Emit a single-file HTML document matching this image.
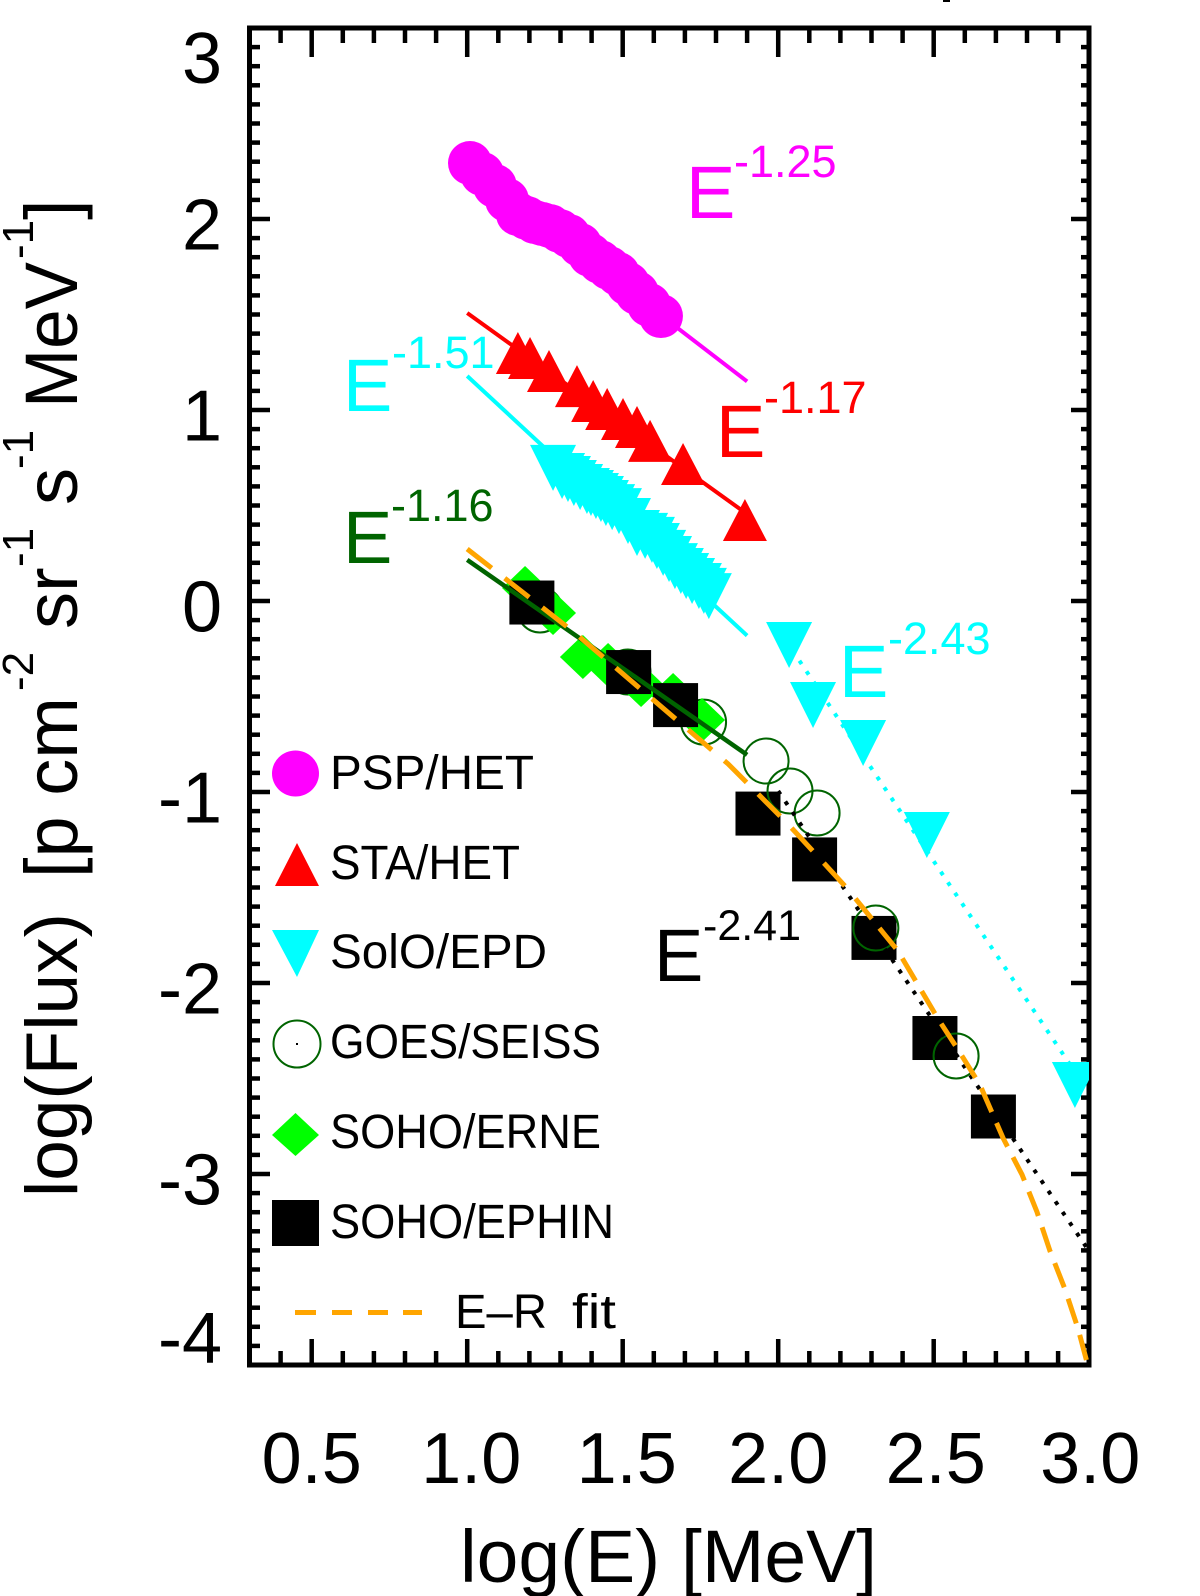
<!DOCTYPE html>
<html>
<head>
<meta charset="utf-8">
<title>log(Flux) vs log(E)</title>
<style>
html,body{margin:0;padding:0;background:#fff;width:1200px;height:1596px;overflow:hidden}
svg{display:block}
text{font-family:"Liberation Sans",sans-serif}
</style>
</head>
<body>
<svg id="chart" xmlns="http://www.w3.org/2000/svg" width="1200" height="1596" viewBox="0 0 1200 1596">
  <defs>
    <clipPath id="plot-clip"><rect x="246" y="24" width="843" height="1343"/></clipPath>
  </defs>
  <rect x="943" y="0" width="7" height="2" fill="#000"/>
  <rect x="249.5" y="28" width="839.5" height="1337" fill="none" stroke="#000" stroke-width="5"/>
  <g id="ticks"></g>
  <g id="tick-labels" font-size="72" fill="#000"></g>

  <g>
    <text x="460" y="1582" font-size="74" fill="#000" textLength="417" lengthAdjust="spacingAndGlyphs">log(E) [MeV]</text>
  </g>
  <g fill="#000">
    <text transform="translate(77,1197) rotate(-90)" font-size="73">log(Flux)</text>
    <text transform="translate(77,878) rotate(-90)" font-size="74">[p cm</text>
    <text transform="translate(33,691) rotate(-90)" font-size="44">-2</text>
    <text transform="translate(77,629) rotate(-90)" font-size="74">sr</text>
    <text transform="translate(33,567) rotate(-90)" font-size="44">-1</text>
    <text transform="translate(77,505) rotate(-90)" font-size="74">s</text>
    <text transform="translate(33,469) rotate(-90)" font-size="44">-1</text>
    <text transform="translate(77,408) rotate(-90)" font-size="74" textLength="146" lengthAdjust="spacingAndGlyphs">MeV</text>
    <text transform="translate(33,259) rotate(-90)" font-size="44">-1</text>
    <text transform="translate(77,220) rotate(-90)" font-size="74">]</text>
  </g>

  <g id="marks" clip-path="url(#plot-clip)"></g>

  <g fill="#ff00ff">
    <text x="686" y="218" font-size="74">E</text><text x="734" y="177" font-size="45">-1.25</text>
  </g>
  <g fill="#ff0000">
    <text x="716" y="457" font-size="74">E</text><text x="764" y="413" font-size="45">-1.17</text>
  </g>
  <g fill="#00ffff">
    <text x="343" y="411" font-size="74">E</text><text x="392" y="368" font-size="45">-1.51</text>
  </g>
  <g fill="#006400">
    <text x="343" y="563" font-size="74">E</text><text x="391" y="521" font-size="45">-1.16</text>
  </g>
  <g fill="#00ffff">
    <text x="839" y="697" font-size="74">E</text><text x="888" y="654" font-size="45">-2.43</text>
  </g>
  <g fill="#000">
    <text x="654" y="981" font-size="74">E</text><text x="703" y="940" font-size="43">-2.41</text>
  </g>

  <g>
    <ellipse cx="295.5" cy="773.5" rx="23.5" ry="23" fill="#ff00ff"/>
    <text x="330" y="789" font-size="48" textLength="204" lengthAdjust="spacingAndGlyphs">PSP/HET</text>
    <polygon points="297,843 319,886 275,886" fill="#ff0000"/>
    <text x="330" y="879" font-size="48" textLength="190" lengthAdjust="spacingAndGlyphs">STA/HET</text>
    <polygon points="272,930 319,930 297,977" fill="#00ffff"/>
    <text x="330" y="968" font-size="48" textLength="217" lengthAdjust="spacingAndGlyphs">SolO/EPD</text>
    <circle cx="297" cy="1044" r="23.5" fill="none" stroke="#006400" stroke-width="2"/>
    <rect x="296" y="1043" width="2" height="2" fill="#000"/>
    <text x="330" y="1058" font-size="48" textLength="271" lengthAdjust="spacingAndGlyphs">GOES/SEISS</text>
    <polygon points="295.5,1113 319,1135 295.5,1156 272,1135" fill="#00ff00"/>
    <text x="330" y="1148" font-size="48" textLength="271" lengthAdjust="spacingAndGlyphs">SOHO/ERNE</text>
    <rect x="272" y="1200" width="47" height="46" fill="#000"/>
    <text x="330" y="1238" font-size="48" textLength="284" lengthAdjust="spacingAndGlyphs">SOHO/EPHIN</text>
    <g fill="#ffa500">
      <rect x="295" y="1310" width="21" height="5"/><rect x="332" y="1310" width="20" height="5"/><rect x="368" y="1310" width="20" height="5"/><rect x="403" y="1310" width="19" height="5"/>
    </g>
    <g>
      <text x="455" y="1328" font-size="48" textLength="92" lengthAdjust="spacingAndGlyphs">E–R</text>
      <text x="572" y="1328" font-size="48" textLength="44" lengthAdjust="spacingAndGlyphs">fit</text>
    </g>
  </g>
</svg>

<script>
// Axis ticks and labels
const xTickValues = [0.5, 1.0, 1.5, 2.0, 2.5, 3.0];
const xTickLabels = ['0.5', '1.0', '1.5', '2.0', '2.5', '3.0'];
const yTickValues = [3, 2, 1, 0, -1, -2, -3, -4];
const yTickLabels = ['3', '2', '1', '0', '-1', '-2', '-3', '-4'];

// PSP/HET
const pspE = [1.009, 1.048, 1.089, 1.128, 1.163, 1.192, 1.218, 1.241, 1.266, 1.298, 1.327, 1.363, 1.395, 1.427, 1.456, 1.485, 1.517, 1.546, 1.585, 1.623];
const pspFlux = [2.293, 2.236, 2.173, 2.099, 2.026, 2.005, 1.984, 1.974, 1.963, 1.937, 1.911, 1.864, 1.812, 1.775, 1.743, 1.712, 1.660, 1.613, 1.550, 1.492];
// STA/HET
const staE = [1.163, 1.202, 1.263, 1.353, 1.405, 1.450, 1.501, 1.546, 1.588, 1.694, 1.893];
const staFlux = [1.272, 1.246, 1.178, 1.099, 1.021, 0.979, 0.927, 0.885, 0.812, 0.691, 0.398];
// SolO/EPD
const soloE = [1.276, 1.305, 1.324, 1.343, 1.363, 1.385, 1.398, 1.414, 1.430, 1.446, 1.466, 1.488, 1.517, 1.546, 1.572, 1.594, 1.610, 1.630, 1.649, 1.668, 1.687, 1.704, 1.723, 1.745, 1.761, 1.777, 2.035, 2.112, 2.273, 2.478, 2.954];
const soloFlux = [0.702, 0.660, 0.644, 0.623, 0.602, 0.581, 0.571, 0.555, 0.539, 0.518, 0.497, 0.476, 0.424, 0.361, 0.346, 0.325, 0.293, 0.257, 0.225, 0.188, 0.162, 0.136, 0.110, 0.084, 0.058, 0.031, -0.225, -0.539, -0.738, -1.220, -2.529];
// GOES/SEISS
const goesE = [1.234, 1.517, 1.760, 1.961, 2.038, 2.125, 2.314, 2.572];
const goesFlux = [-0.047, -0.372, -0.634, -0.838, -0.995, -1.110, -1.712, -2.382];
// SOHO/ERNE
const erneE = [1.186, 1.276, 1.372, 1.453, 1.559, 1.662, 1.755];
const erneFlux = [0.068, -0.063, -0.293, -0.335, -0.440, -0.492, -0.623];
// SOHO/EPHIN
const ephinE = [1.208, 1.519, 1.670, 1.935, 2.117, 2.308, 2.504, 2.692];
const ephinFlux = [-0.008, -0.372, -0.545, -1.113, -1.353, -1.764, -2.288, -2.699];

// Power-law fits
const pspFitE = [1.0, 1.9];
const pspFitFlux = [2.275, 1.15];
const staFitE = [1.0, 1.9];
const staFitFlux = [1.508, 0.455];
const soloLowFitE = [1.0, 1.9];
const soloLowFitFlux = [1.178, -0.181];
const soloHighFitE = [2.0, 3.0];
const soloHighFitFlux = [-0.147, -2.577];
const nearLowFitE = [1.0, 1.9];
const nearLowFitFlux = [0.215, -0.806];
const nearHighFitE = [2.0, 3.0];
const nearHighFitFlux = [-0.995, -3.405];

// Ellison-Ramaty fit
const erFitE = [1.00, 1.347, 1.588, 1.839, 2.028, 2.221, 2.385, 2.514, 2.585, 2.649, 2.723, 2.784, 2.832, 2.874, 2.922, 2.964, 2.996];
const erFitFlux = [0.272, -0.168, -0.503, -0.853, -1.162, -1.503, -1.832, -2.188, -2.366, -2.534, -2.812, -3.003, -3.199, -3.403, -3.602, -3.809, -4.005];

function xAxis(v) { return 249.5 + (v - 0.3) * 311; }
function yAxis(v) { return 28 + (3 - v) * 191; }

const SVG_NS = 'http://www.w3.org/2000/svg';
function make(parent, tag, attrs) {
  const node = document.createElementNS(SVG_NS, tag);
  for (const key in attrs) node.setAttribute(key, attrs[key]);
  parent.appendChild(node);
  return node;
}

// Ticks
const tickGroup = document.getElementById('ticks');
function drawXTick(v, isMajor) {
  const px = xAxis(v);
  const top = make(tickGroup, 'line', { x1: px, x2: px, y1: 28, y2: isMajor ? 57 : 43, stroke: '#000', 'stroke-width': 4.5 });
  
  
  const bottom = make(tickGroup, 'line', { x1: px, x2: px, y1: 1365, y2: isMajor ? 1339 : 1351, stroke: '#000', 'stroke-width': 4.5 });
  
  
}
function drawYTick(v, isMajor) {
  const py = yAxis(v);
  const left = make(tickGroup, 'line', { x1: 249.5, x2: isMajor ? 270 : 260, y1: py, y2: py, stroke: '#000', 'stroke-width': 4.5 });
  
  
  const right = make(tickGroup, 'line', { x1: 1089, x2: isMajor ? 1071 : 1081, y1: py, y2: py, stroke: '#000', 'stroke-width': 4.5 });
  
  
}
for (let i = 4; i < 30; i++) {
  const v = i / 10;
  drawXTick(v, i % 5 === 0);
}
for (let i = -39; i < 30; i++) {
  const v = i / 10;
  drawYTick(v, i % 10 === 0);
}

// Tick labels
const labelGroup = document.getElementById('tick-labels');
const xLabelNudge = [0, 4, 4, 0, 2, 1];
xTickValues.forEach(function (v, i) {
  const label = make(labelGroup, 'text', { x: xAxis(v) + xLabelNudge[i], y: 1483, 'text-anchor': 'middle' });
  
  
  label.textContent = xTickLabels[i];
});
yTickValues.forEach(function (v, i) {
  let shift = 30.5;
  if (i === 0) shift = 55;
  if (i === yTickValues.length - 1) shift = -2;
  const label = make(labelGroup, 'text', { x: 222, y: yAxis(v) + shift, 'text-anchor': 'end' });
  
  
  label.textContent = yTickLabels[i];
});

// Data marks
const marks = document.getElementById('marks');
function pointsPath(es, fs) {
  return es.map(function (e, i) { return (i ? 'L' : 'M') + xAxis(e).toFixed(1) + ' ' + yAxis(fs[i]).toFixed(1); }).join(' ');
}
function drawLine(es, fs, color, width, dash) {
  const attrs = { d: pointsPath(es, fs), fill: 'none', stroke: color, 'stroke-width': width };
  if (dash) attrs['stroke-dasharray'] = dash;
  return make(marks, 'path', attrs);
}
function drawRing(e, f) {
  const ring = make(marks, 'circle', { cx: xAxis(e), cy: yAxis(f), r: 22.5, fill: 'none', stroke: '#006400', 'stroke-width': 2 });
  
  
}

const pspFitLine = drawLine(pspFitE, pspFitFlux, '#ff00ff', 4);


const staFitLine = drawLine(staFitE, staFitFlux, '#ff0000', 4);


const soloLowLine = drawLine(soloLowFitE, soloLowFitFlux, '#00ffff', 4);


const soloHighLine = drawLine(soloHighFitE, soloHighFitFlux, '#00ffff', 4, '4 8.7');



pspE.forEach(function (e, i) {
  const dot = make(marks, 'circle', { cx: xAxis(e), cy: yAxis(pspFlux[i]), r: 22, fill: '#ff00ff' });
  
  
});
staE.forEach(function (e, i) {
  const cx = xAxis(e), cy = yAxis(staFlux[i]);
  const tri = make(marks, 'polygon', { points: cx + ',' + (cy - 26) + ' ' + (cx + 22) + ',' + (cy + 16) + ' ' + (cx - 22) + ',' + (cy + 16), fill: '#ff0000' });
  
  
});
soloE.forEach(function (e, i) {
  const cx = xAxis(e), cy = yAxis(soloFlux[i]);
  const tri = make(marks, 'polygon', { points: (cx - 23) + ',' + (cy - 22) + ' ' + (cx + 23) + ',' + (cy - 22) + ' ' + cx + ',' + (cy + 24), fill: '#00ffff' });
  
  
});
// Lower-energy GOES rings sit beneath the ERNE and EPHIN markers
goesE.forEach(function (e, i) {
  if (e < 1.9) drawRing(e, goesFlux[i]);
});
erneE.forEach(function (e, i) {
  const cx = xAxis(e), cy = yAxis(erneFlux[i]);
  const dia = make(marks, 'polygon', { points: cx + ',' + (cy - 22) + ' ' + (cx + 23) + ',' + cy + ' ' + cx + ',' + (cy + 22) + ' ' + (cx - 23) + ',' + cy, fill: '#00ff00' });
  
  
});
ephinE.forEach(function (e, i) {
  const cx = xAxis(e), cy = yAxis(ephinFlux[i]);
  const sq = make(marks, 'rect', { x: cx - 22.5, y: cy - 22, width: 45, height: 44, fill: '#000' });
  
  
});
goesE.forEach(function (e, i) {
  if (e >= 1.9) drawRing(e, goesFlux[i]);
});

const nearLowLine = drawLine(nearLowFitE, nearLowFitFlux, '#006400', 4.5);


const nearHighLine = drawLine(nearHighFitE, nearHighFitFlux, '#000', 4, '4 8.7');



// Dash rhythm tightens along the curve, as in the source figure
const erDashParts = [];
for (let i = 0; i < 11; i++) erDashParts.push('31 16.6');
for (let i = 0; i < 14; i++) erDashParts.push('26 12');
const erLine = drawLine(erFitE, erFitFlux, '#ffa500', 5, erDashParts.join(' '));


</script>
</body>
</html>
